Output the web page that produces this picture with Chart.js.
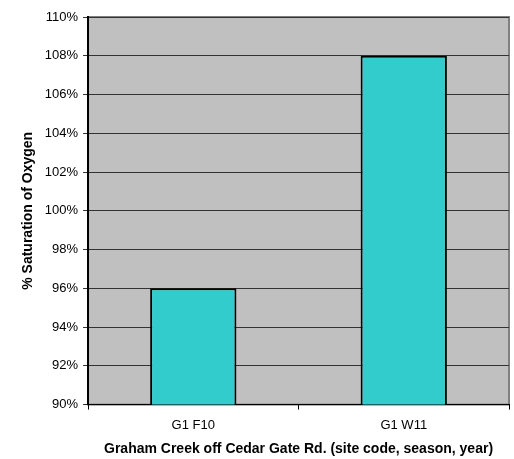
<!DOCTYPE html>
<html>
<head>
<meta charset="utf-8">
<script src="https://cdn.jsdelivr.net/npm/chart.js@4/dist/chart.umd.min.js"></script>
<style>
  html, body { margin: 0; padding: 0; background: #fff; }
  #wrap { width: 514px; height: 459px; }
</style>
</head>
<body>
<div id="wrap"><canvas id="grafica" width="514" height="459"></canvas></div>
<script>
// datos
const categorias = ['G1 F10', 'G1 W11'];
const saturacion = [96, 108];
const yMin = 90, yMax = 110, yPaso = 2;

// fondo gris del area de trazado
const fondoPlot = {
    id: 'fondoPlot',
    beforeDraw(chart) {
        const { ctx, chartArea: a } = chart;
        ctx.save();
        ctx.fillStyle = '#C0C0C0';
        ctx.fillRect(a.left, a.top, a.right - a.left, a.bottom - a.top);
        ctx.strokeStyle = '#808080';
        ctx.lineWidth = 2;
        ctx.strokeRect(a.left, a.top, a.right - a.left, a.bottom - a.top);
        ctx.restore();
    }
};

Chart.defaults.font.family = '"Liberation Sans", Arial, sans-serif';
Chart.defaults.color = '#000';

new Chart(document.getElementById('grafica'), {
    type: 'bar',
    data: {
        labels: categorias,
        datasets: [{
            data: saturacion,
            backgroundColor: '#33CCCC',
            borderColor: '#000',
            borderWidth: 2,
            categoryPercentage: 0.41,
            barPercentage: 1
        }]
    },
    options: {
        responsive: false,
        animation: false,
        layout: { padding: { top: 17, right: 5, left: 16, bottom: 1 } },
        plugins: {
            legend: { display: false },
            tooltip: { enabled: false }
        },
        scales: {
            x: {
                grid: { offset: true, drawOnChartArea: false, color: '#000', tickLength: 5, tickWidth: 1 },
                border: { color: '#000', width: 1 },
                ticks: { font: { size: 13 }, padding: 8 },
                title: {
                    display: true,
                    text: 'Graham Creek off Cedar Gate Rd. (site code, season, year)',
                    font: { size: 14, weight: 'bold' },
                    padding: { top: 0, bottom: 0 }
                }
            },
            y: {
                min: yMin,
                max: yMax,
                ticks: {
                    stepSize: yPaso,
                    font: { size: 13 },
                    padding: 5,
                    callback: v => v + '%'
                },
                grid: { color: '#333', lineWidth: 1, tickLength: 5 },
                border: { color: '#000', width: 2 },
                title: {
                    display: true,
                    text: '% Saturation of Oxygen',
                    font: { size: 14, weight: 'bold' },
                    padding: { bottom: 3 }
                }
            }
        }
    },
    plugins: [fondoPlot]
});
</script>
</body>
</html>
